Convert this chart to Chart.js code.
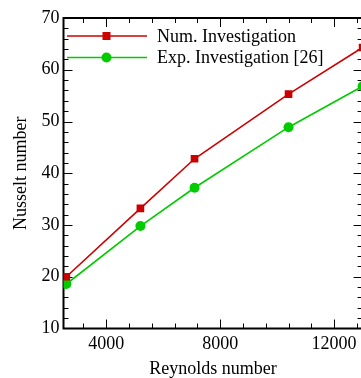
<!DOCTYPE html>
<html>
<head>
<meta charset="utf-8">
<script src="https://cdn.jsdelivr.net/npm/chart.js@4.4.1/dist/chart.umd.min.js"></script>
<style>
  html, body { margin: 0; padding: 0; background: #fff; overflow: hidden; }
  #clip { width: 361px; height: 378px; overflow: hidden; position: relative; }
  #wrap { width: 368px; height: 378px; position: absolute; left: 0; top: 0; }
</style>
</head>
<body>
<div id="clip"><div id="wrap"><canvas id="chart" width="368" height="378"></canvas></div></div>
<script>
// values
const reynolds = [2600, 5200, 7100, 10400, 13000]
const numNusselt = [20.0, 33.2, 42.8, 55.3, 64.3]
const expNusselt = [18.6, 29.8, 37.2, 48.9, 56.8]
const seriesLabels = ["Num. Investigation", "Exp. Investigation [26]"]
const xTickLabels = [4000, 8000, 12000]
const yTickLabels = [10, 20, 30, 40, 50, 60, 70]

const serif = "'Liberation Serif', 'DejaVu Serif', serif"
const red = "#cc0000"
const green = "#00cc00"

const toPoints = values =>
  values.map((v, i) => ({ x: reynolds[i], y: v }))

// frame with inward ticks, major and minor, on all four sides
const framePlugin = {
  id: "frame",
  beforeDatasetsDraw(chart) {
    const { ctx, chartArea: a, scales } = chart
    const xs = scales.x
    const ys = scales.y
    ctx.save()
    ctx.strokeStyle = "#000"
    ctx.lineWidth = 1

    for (let v = 3200; v <= 12800; v += 800) {
      const px = Math.round(xs.getPixelForValue(v)) + 0.5
      const len = v % 4000 === 0 ? 9 : 5
      ctx.beginPath()
      ctx.moveTo(px, a.bottom)
      ctx.lineTo(px, a.bottom - len)
      ctx.moveTo(px, a.top)
      ctx.lineTo(px, a.top + len)
      ctx.stroke()
    }

    for (let v = 12; v <= 68; v += 2) {
      const py = Math.round(ys.getPixelForValue(v)) + 0.5
      const len = v % 10 === 0 ? 9 : 5
      ctx.beginPath()
      ctx.moveTo(a.left, py)
      ctx.lineTo(a.left + len, py)
      ctx.moveTo(a.right, py)
      ctx.lineTo(a.right - len, py)
      ctx.stroke()
    }

    ctx.lineWidth = 2
    ctx.strokeRect(a.left, a.top, a.right - a.left, a.bottom - a.top)
    ctx.restore()
  }
}

// legend drawn inside the plot, line + marker + text
const legendPlugin = {
  id: "insideLegend",
  afterDraw(chart) {
    const { ctx } = chart
    const rows = [36, 57.5]
    ctx.save()
    chart.data.datasets.forEach((ds, i) => {
      const y = rows[i]
      ctx.strokeStyle = ds.borderColor
      ctx.lineWidth = ds.borderWidth
      ctx.beginPath()
      ctx.moveTo(67, y)
      ctx.lineTo(147, y)
      ctx.stroke()

      ctx.fillStyle = ds.backgroundColor
      ctx.beginPath()
      if (ds.pointStyle === "rect") {
        ctx.rect(102.5, y - 4, 8, 8)
      } else {
        ctx.arc(106.5, y, 5, 0, Math.PI * 2)
      }
      ctx.fill()

      ctx.fillStyle = "#000"
      ctx.font = "18px " + serif
      ctx.textAlign = "left"
      ctx.textBaseline = "alphabetic"
      ctx.fillText(ds.label, 157, y + 5.8)
    })
    ctx.restore()
  }
}

const chart = new Chart(document.getElementById("chart"), {
  type: "line",
  data: {
    datasets: [
      {
        label: seriesLabels[0],
        data: toPoints(numNusselt),
        borderColor: red,
        backgroundColor: red,
        borderWidth: 1.6,
        pointStyle: "rect",
        pointRadius: 5.4,
        pointBorderWidth: 0,
        tension: 0
      },
      {
        label: seriesLabels[1],
        data: toPoints(expNusselt),
        borderColor: green,
        backgroundColor: green,
        borderWidth: 1.6,
        pointStyle: "circle",
        pointRadius: 5,
        pointBorderWidth: 0,
        tension: 0
      }
    ]
  },
  options: {
    responsive: false,
    animation: false,
    devicePixelRatio: 1,
    layout: {
      padding: { top: 18, right: 1, left: 0, bottom: 0 }
    },
    plugins: {
      legend: { display: false },
      tooltip: { enabled: false }
    },
    scales: {
      x: {
        type: "linear",
        min: 2500,
        max: 13000,
        grid: { display: false, drawTicks: false },
        border: { display: false },
        afterBuildTicks: scale => {
          scale.ticks = xTickLabels.map(v => ({ value: v }))
        },
        afterFit: scale => {
          scale.height = 49.5
          scale.paddingLeft = 0
          scale.paddingRight = 0
        },
        ticks: {
          color: "#000",
          padding: 5,
          maxRotation: 0,
          font: { family: serif, size: 18, lineHeight: 1.2 },
          callback: value => String(value)
        },
        title: {
          display: true,
          text: "Reynolds number",
          color: "#000",
          padding: { top: 0, bottom: 0 },
          font: { family: serif, size: 18, lineHeight: 1 }
        }
      },
      y: {
        min: 10,
        max: 70,
        grid: { display: false, drawTicks: false },
        border: { display: false },
        afterBuildTicks: scale => {
          scale.ticks = yTickLabels.map(v => ({ value: v }))
        },
        afterFit: scale => {
          scale.width = 63.5
        },
        ticks: {
          color: "#000",
          padding: 4,
          font: { family: serif, size: 18 }
        },
        title: {
          display: true,
          text: "Nusselt number",
          color: "#000",
          padding: { top: 12, bottom: 0 },
          font: { family: serif, size: 18, lineHeight: 1 }
        }
      }
    }
  },
  plugins: [framePlugin, legendPlugin]
})
</script>
</body>
</html>
